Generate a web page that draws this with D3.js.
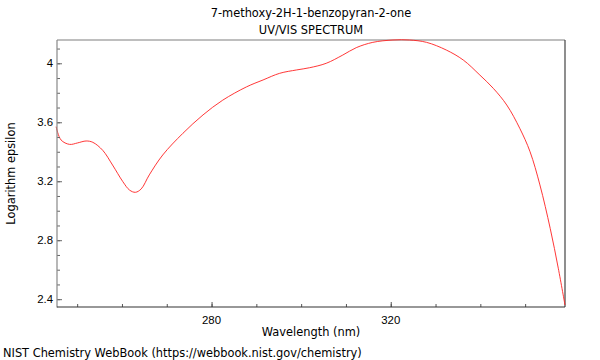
<!DOCTYPE html>
<html>
<head>
<meta charset="utf-8">
<script src="https://cdn.jsdelivr.net/npm/d3@7"></script>
<style>
  html, body { margin: 0; padding: 0; background: #fff; }
  svg { display: block; font-family: "DejaVu Sans", sans-serif; }
</style>
</head>
<body>
<svg id="chart" width="600" height="360"></svg>
<script>
// ---- data ----
const wavelength = [245.3, 246.4, 248.3, 250.1, 252.0, 253.5, 255.7, 257.9, 260.2, 261.7, 263.0, 264.3, 266.1, 269.1, 273.6, 278.1, 282.5, 287.8, 291.5, 295.2, 299.0, 301.9, 305.6, 309.3, 312.3, 316.0, 320.5, 324.2, 328.0, 332.4, 336.2, 339.9, 342.9, 345.9, 348.8, 351.1, 353.3, 355.6, 357.4, 358.9];
const logEpsilon = [3.57, 3.48, 3.45, 3.46, 3.473, 3.464, 3.41, 3.31, 3.197, 3.14, 3.125, 3.148, 3.243, 3.378, 3.525, 3.65, 3.75, 3.84, 3.887, 3.932, 3.955, 3.97, 4.0, 4.056, 4.106, 4.142, 4.158, 4.158, 4.142, 4.09, 4.022, 3.92, 3.83, 3.717, 3.559, 3.40, 3.175, 2.88, 2.61, 2.36];
const xTickValues = [280, 320];
const yTickValues = [2.4, 2.8, 3.2, 3.6, 4.0];
const titleLines = ["7-methoxy-2H-1-benzopyran-2-one", "UV/VIS SPECTRUM"];
const xLabel = "Wavelength (nm)";
const yLabel = "Logarithm epsilon";
const footer = "NIST Chemistry WebBook (https://webbook.nist.gov/chemistry)";

const svg = d3.select("#chart");
const margin = {left: 57, right: 35, top: 40, bottom: 53};
const W = 600, H = 360;
const x0 = margin.left, x1 = W - margin.right, y0 = margin.top, y1 = H - margin.bottom;
const FS = 11.4;

const x = d3.scaleLinear().domain([245.5, 358.9]).range([x0, x1]);
const y = d3.scaleLinear().domain([2.347, 4.158]).range([y1, y0]);

const data = wavelength.map((w, i) => ({w, v: logEpsilon[i]}));

// frame: top and right borders
svg.append("line").attr("x1", x0).attr("x2", x1).attr("y1", y0).attr("y2", y0)
  .attr("stroke", "#a8a8a8").attr("stroke-width", 1.5);
svg.append("line").attr("x1", x1).attr("x2", x1).attr("y1", y0).attr("y2", y1)
  .attr("stroke", "#444").attr("stroke-width", 1.2);

// line
svg.append("path").datum(data)
  .attr("fill", "none").attr("stroke", "#ff2020").attr("stroke-width", 0.9)
  .attr("d", d3.line().x(d => x(d.w)).y(d => y(d.v)).curve(d3.curveCatmullRom.alpha(0.5)));

// y axis
const yMinor = d3.range(2.4, 4.16, 0.1).map(v => +v.toFixed(2));
const yAxisG = svg.append("g").attr("transform", `translate(${x0},0)`);
yAxisG.call(d3.axisRight(y).tickValues(yMinor).tickSize(3).tickFormat(""));
yAxisG.append("g").call(d3.axisRight(y).tickValues(yTickValues).tickSize(5).tickFormat(""));
yAxisG.selectAll(".domain").remove();
yAxisG.selectAll("line").attr("stroke", "#666");
yAxisG.append("line").attr("x1", 0).attr("x2", 0).attr("y1", y0).attr("y2", y1 + 0.5)
  .attr("stroke", "#888").attr("stroke-width", 1.2);
yAxisG.selectAll(".ylab").data(yTickValues).join("text")
  .attr("class", "ylab").attr("x", -4).attr("y", d => y(d)).attr("dy", "0.35em")
  .attr("text-anchor", "end").attr("font-size", FS).attr("fill", "#000")
  .text(d => d3.format("")(d));

// x axis
const xMinor = d3.range(250, 359, 10);
const xAxisG = svg.append("g").attr("transform", `translate(0,${y1})`);
xAxisG.call(d3.axisTop(x).tickValues(xMinor).tickSize(3).tickFormat(""));
xAxisG.append("g").call(d3.axisTop(x).tickValues(xTickValues).tickSize(5).tickFormat(""));
xAxisG.selectAll(".domain").remove();
xAxisG.selectAll("line").attr("stroke", "#555");
xAxisG.append("line").attr("x1", x0).attr("x2", x1).attr("y1", 0).attr("y2", 0)
  .attr("stroke", "#333").attr("stroke-width", 1.2);
xAxisG.selectAll(".xlab").data(xTickValues).join("text")
  .attr("class", "xlab").attr("x", d => x(d)).attr("y", 17)
  .attr("text-anchor", "middle").attr("font-size", FS).attr("fill", "#000")
  .text(d => d);

// titles
const cx = (x0 + x1) / 2;
svg.selectAll(".title").data(titleLines).join("text")
  .attr("class", "title").attr("x", cx).attr("y", (d, i) => 17 + i * 17)
  .attr("text-anchor", "middle").attr("font-size", FS).attr("fill", "#000").text(d => d);

svg.append("text").attr("x", cx).attr("y", 336).attr("text-anchor", "middle")
  .attr("font-size", FS).attr("fill", "#000").text(xLabel);

svg.append("text").attr("transform", `translate(15,${(y0 + y1) / 2}) rotate(-90)`)
  .attr("text-anchor", "middle").attr("font-size", FS).attr("fill", "#000").text(yLabel);

svg.append("text").attr("x", 3).attr("y", 357).attr("font-size", FS).attr("fill", "#000").text(footer);
</script>
</body>
</html>
